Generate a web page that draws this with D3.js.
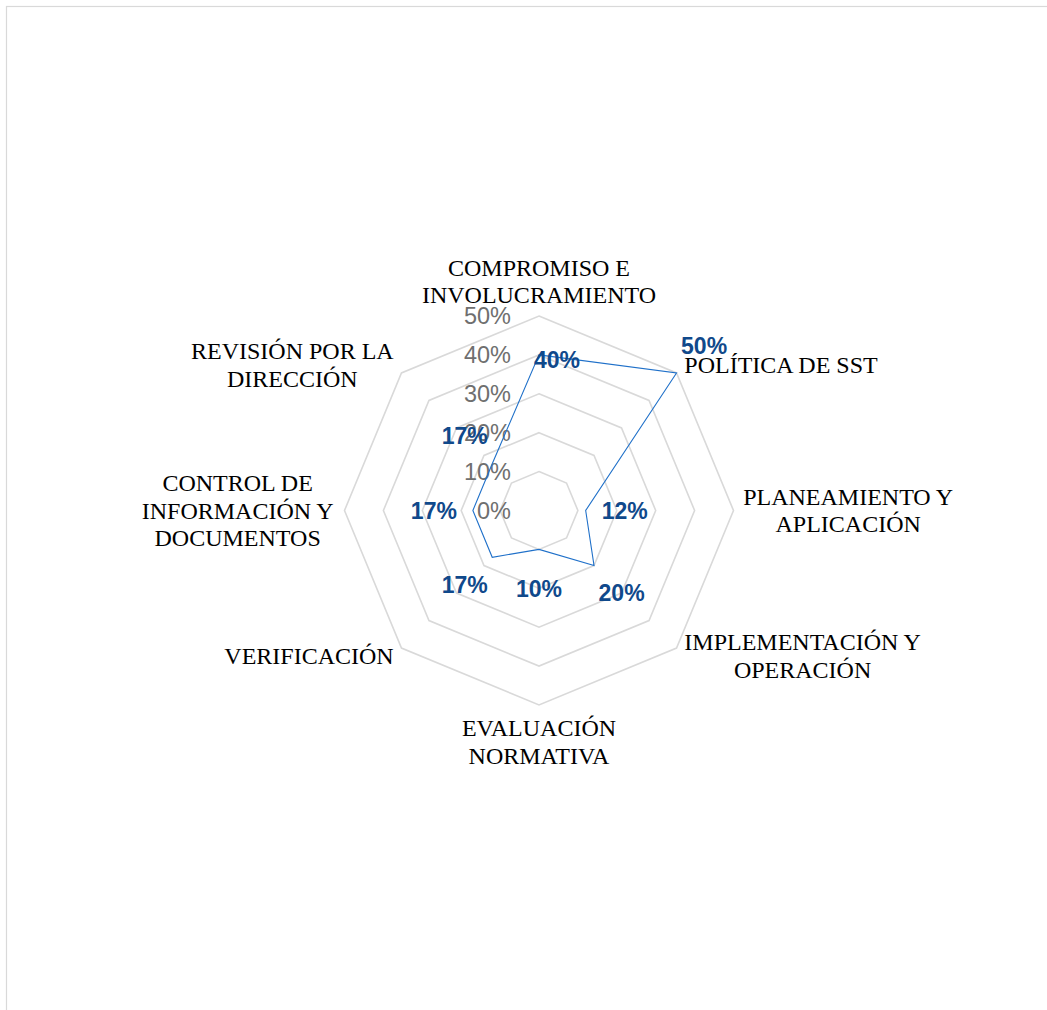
<!DOCTYPE html>
<html>
<head>
<meta charset="utf-8">
<script src="https://cdn.jsdelivr.net/npm/d3@7"></script>
<style>
  body { margin: 0; background: #ffffff; }
  svg { display: block; }
</style>
</head>
<body>
<svg id="chart" width="1047" height="1010"></svg>
<script>
// Axis categories (one entry per spoke, split into display lines)
const categories = [
  ["COMPROMISO E", "INVOLUCRAMIENTO"],
  ["POLÍTICA DE SST"],
  ["PLANEAMIENTO Y", "APLICACIÓN"],
  ["IMPLEMENTACIÓN Y", "OPERACIÓN"],
  ["EVALUACIÓN", "NORMATIVA"],
  ["VERIFICACIÓN"],
  ["CONTROL DE", "INFORMACIÓN Y", "DOCUMENTOS"],
  ["REVISIÓN POR LA", "DIRECCIÓN"]
];

// Series values (share of compliance per category)
const values = [0.40, 0.50, 0.12, 0.20, 0.10, 0.17, 0.17, 0.17];

// Radial tick values and their labels
const ticks = [0, 0.1, 0.2, 0.3, 0.4, 0.5];
const tickLabels = ["0%", "10%", "20%", "30%", "40%", "50%"];

const svg = d3.select("#chart");

// Chart area frame
svg.append("rect")
  .attr("x", 6.5).attr("y", 6.5)
  .attr("width", 1200).attr("height", 1200)
  .attr("fill", "none")
  .attr("stroke", "#d9d9d9")
  .attr("stroke-width", 1.2);

const cx = 539, cy = 510.5, R = 194.5;
const g = svg.append("g").attr("transform", `translate(${cx},${cy})`);

const rScale = d3.scaleLinear().domain([0, 0.5]).range([0, R]);
const angle = d3.scaleLinear().domain([0, categories.length]).range([0, 2 * Math.PI]);
const pct = d3.format(".0%");

const ring = d3.lineRadial()
  .angle((d, i) => angle(i))
  .radius(d => rScale(d))
  .curve(d3.curveLinearClosed);

// Octagonal gridlines
g.selectAll("path.grid")
  .data(ticks.filter(t => t > 0))
  .join("path")
  .attr("class", "grid")
  .attr("d", t => ring(categories.map(() => t)))
  .attr("fill", "none")
  .attr("stroke", "#d9d9d9")
  .attr("stroke-width", 1.6);

// Radial axis labels
g.selectAll("text.tick")
  .data(ticks)
  .join("text")
  .attr("class", "tick")
  .attr("x", -28)
  .attr("y", t => -rScale(t))
  .attr("dy", "0.36em")
  .attr("text-anchor", "end")
  .attr("font-family", "'Liberation Sans', Arial, sans-serif")
  .attr("font-size", 23.5)
  .attr("fill", "#6f6f6f")
  .text((t, i) => tickLabels[i]);

// Series polygon
g.append("path")
  .attr("d", ring(values))
  .attr("fill", "none")
  .attr("stroke", "#1f70c9")
  .attr("stroke-width", 1.1)
  .attr("stroke-linejoin", "miter");

// Category labels outside the outer ring
const lineH = 27.5;
categories.forEach((lines, i) => {
  const a = angle(i);
  const s = Math.sin(a), c = Math.cos(a);
  const px = (R + 11) * s, py = -(R + 11) * c;
  const t = g.append("text")
    .attr("font-family", "'Liberation Serif', 'Times New Roman', serif")
    .attr("font-size", 24)
    .attr("fill", "#000")
    .attr("text-anchor", "middle");
  const spans = lines.map(l => t.append("tspan").text(l));
  const w = d3.max(spans, sp => sp.node().getComputedTextLength());
  let x = px;
  if (s > 0.01) x = px + w / 2;
  else if (s < -0.01) x = px - w / 2;
  let firstBase;
  const n = lines.length;
  if (c > 0.9) firstBase = py - 2 - lineH * (n - 1);
  else if (c < -0.9) firstBase = py + 20;
  else firstBase = py - lineH * (n - 1) / 2 + 8;
  spans.forEach((sp, k) => sp.attr("x", x).attr("y", firstBase + k * lineH));
});

// Data labels
g.selectAll("text.val")
  .data(values)
  .join("text")
  .attr("class", "val")
  .each(function (v, i) {
    const a = angle(i);
    const r = rScale(v);
    let x = r * Math.sin(a), y = -r * Math.cos(a);
    if (i === 0) { x += 18; y += 5; }
    else { x += 39 * Math.sin(a); y -= 39 * Math.cos(a); }
    d3.select(this).attr("x", x).attr("y", y);
  })
  .attr("dy", "0.36em")
  .attr("text-anchor", "middle")
  .attr("font-family", "'Liberation Sans', Arial, sans-serif")
  .attr("font-weight", "bold")
  .attr("font-size", 23)
  .attr("fill", "#10498b")
  .text(v => pct(v));
</script>
</body>
</html>
